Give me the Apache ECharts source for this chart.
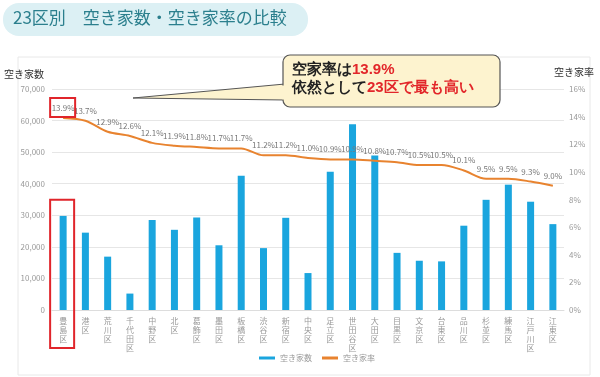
<!DOCTYPE html>
<html>
<head>
<meta charset="UTF-8">
<title>23区別 空き家数・空き家率</title>
<style>
html,body{margin:0;padding:0;background:#fff;}
#main{width:600px;height:377px;}
</style>
</head>
<body>
<div id="main"></div>
<script src="https://cdn.jsdelivr.net/npm/echarts@6/dist/echarts.min.js"></script>
<script>
// 区名（空き家率の高い順）
var wards = ['豊島区','港区','荒川区','千代田区','中野区','北区','葛飾区','墨田区','板橋区','渋谷区','新宿区','中央区',
  '足立区','世田谷区','大田区','目黒区','文京区','台東区','品川区','杉並区','練馬区','江戸川区','江東区'];
// 空き家数（戸）
var vacantCount = [29800,24500,16900,5200,28500,25400,29300,20500,42500,19600,29200,11700,
  43800,58800,48900,18100,15600,15400,26700,34900,39700,34300,27200];
// 空き家率（%）
var vacantRate = [13.9,13.7,12.9,12.6,12.1,11.9,11.8,11.7,11.7,11.2,11.2,11.0,
  10.9,10.9,10.8,10.7,10.5,10.5,10.1,9.5,9.5,9.3,9.0];

var FONT = '"Noto Sans CJK JP", "Noto Sans", sans-serif';
var chart = echarts.init(document.getElementById('main'));

var option = {
  animation: false,
  textStyle: {fontFamily: FONT},
  grid: {left: 52, right: 36, top: 89, bottom: 67},
  legend: {
    bottom: 10, left: 254,
    icon: 'rect', itemWidth: 16, itemHeight: 3, itemGap: 10,
    textStyle: {fontSize: 8, color: '#999'},
    data: ['空き家数', '空き家率']
  },
  xAxis: {
    type: 'category',
    data: wards,
    axisTick: {show: false},
    axisLine: {lineStyle: {color: '#ddd'}},
    axisLabel: {
      interval: 0, fontSize: 8, color: '#999', lineHeight: 9, margin: 6,
      formatter: function (v) { return v.split('').join('\n'); }
    }
  },
  yAxis: [{
    type: 'value', min: 0, max: 70000, interval: 10000,
    axisLine: {show: false}, axisTick: {show: false},
    axisLabel: {fontSize: 8, color: '#999', margin: 7,
      formatter: function (v) { return v.toLocaleString('en-US'); }},
    splitLine: {lineStyle: {color: '#e6e6e6'}}
  }, {
    type: 'value', min: 0, max: 16, interval: 2,
    axisLine: {show: false}, axisTick: {show: false},
    axisLabel: {fontSize: 8, color: '#999', margin: 5, formatter: '{value}%'},
    splitLine: {show: false}
  }],
  series: [{
    name: '空き家数', type: 'bar', data: vacantCount,
    barWidth: 7, itemStyle: {color: '#1aa5de'}
  }, {
    name: '空き家率', type: 'line', yAxisIndex: 1, data: vacantRate,
    smooth: 0.3, symbol: 'circle', symbolSize: 0.1, showSymbol: true, z: 3,
    lineStyle: {color: '#e8832f', width: 2},
    itemStyle: {color: '#e8832f'},
    labelLayout: {hideOverlap: false},
    label: {show: true, position: 'top', distance: 6, fontSize: 8, color: '#777',
      formatter: function (p) { return p.value.toFixed(1) + '%'; }}
  }]
};
chart.setOption(option);

// 注記（枠・吹き出し・タイトル）
var p0 = chart.convertToPixel({xAxisIndex: 0, yAxisIndex: 0}, [0, 34000]);
var pr = chart.convertToPixel({xAxisIndex: 0, yAxisIndex: 1}, [0, vacantRate[0]]);

chart.setOption({
  graphic: [
    {type: 'rect', silent: true, z: -10, shape: {x: 18, y: 57, width: 572, height: 318},
      style: {fill: 'none', stroke: '#e8e8e8', lineWidth: 1}},
    {type: 'rect', shape: {x: 3, y: 3, width: 305, height: 33, r: 16},
      style: {fill: '#dcf0f4'}},
    {type: 'text', left: 13, top: 9,
      style: {text: '23区別　空き家数・空き家率の比較', fontSize: 17, fill: '#2b7f8d', fontFamily: FONT}},
    {type: 'text', left: 4, top: 69,
      style: {text: '空き家数', fontSize: 10, fill: '#333', fontFamily: FONT}},
    {type: 'text', left: 554, top: 67,
      style: {text: '空き家率', fontSize: 10, fill: '#333', fontFamily: FONT}},
    // 赤枠
    {type: 'rect', z: 10, shape: {x: pr[0] - 13, y: pr[1] - 20, width: 25, height: 19},
      style: {fill: 'none', stroke: '#e0252b', lineWidth: 2}},
    {type: 'rect', z: 10, shape: {x: p0[0] - 13, y: p0[1] - 3, width: 24, height: 348 - p0[1] + 3},
      style: {fill: 'none', stroke: '#e0252b', lineWidth: 2}},
    // 吹き出し
    {type: 'polygon', z: 20, shape: {points: [[285, 84], [133, 98], [285, 100]]},
      style: {fill: '#fdf3cf', stroke: '#555', lineWidth: 1}},
    {type: 'rect', z: 21, shape: {x: 283, y: 55, width: 217, height: 52, r: 7},
      style: {fill: '#fdf3cf', stroke: '#555', lineWidth: 1.2}},
    {type: 'rect', z: 22, shape: {x: 282, y: 85.5, width: 4, height: 14},
      style: {fill: '#fdf3cf'}},
    {type: 'text', z: 23, left: 292, top: 62,
      style: {
        text: '{k|空家率は}{r|13.9%}\n{k|依然として}{r|23区で最も高い}',
        fontFamily: FONT,
        rich: {
          k: {fontSize: 15, fontWeight: 'bold', fill: '#222', lineHeight: 18},
          r: {fontSize: 15, fontWeight: 'bold', fill: '#e2262a', lineHeight: 18}
        }
      }}
  ]
});
</script>
</body>
</html>
